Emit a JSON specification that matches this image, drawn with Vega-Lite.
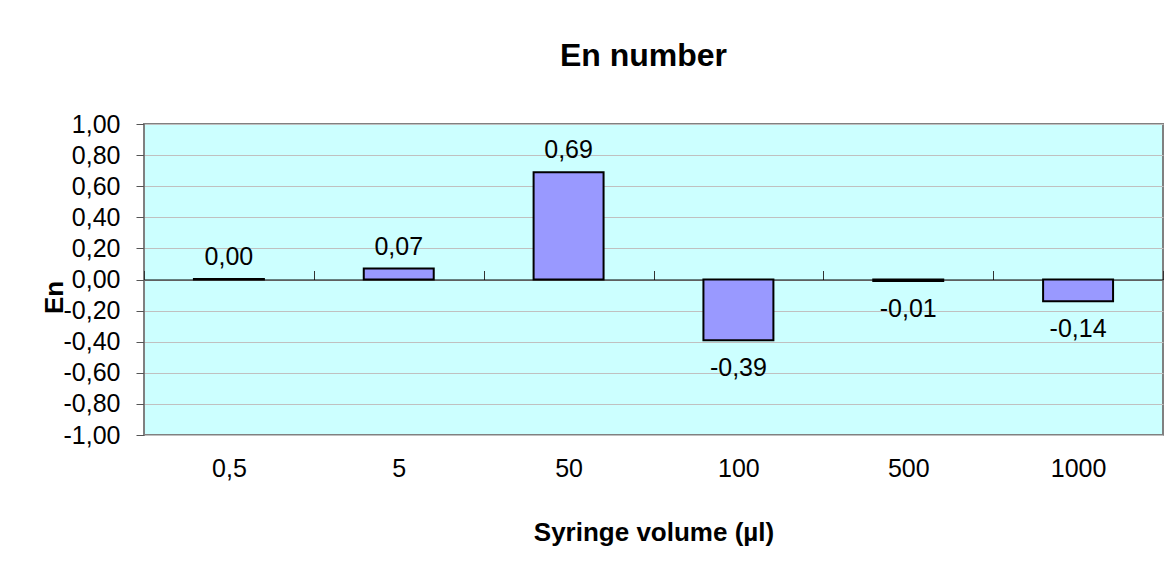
{
  "$schema": "https://vega.github.io/schema/vega-lite/v6.json",
  "autosize": {"type": "none"},
  "width": 1019,
  "height": 311,
  "padding": {"left": 144, "top": 124, "right": 12, "bottom": 134},
  "background": "white",
  "title": {
    "text": "En number",
    "font": "Liberation Sans",
    "fontSize": 32,
    "fontWeight": "bold",
    "color": "black",
    "anchor": "middle",
    "offset": 39,
    "dx": -10
  },
  "data": {
    "values": [
      {"volume": "0,5", "En": 0.003},
      {"volume": "5", "En": 0.07},
      {"volume": "50", "En": 0.69},
      {"volume": "100", "En": -0.39},
      {"volume": "500", "En": -0.01},
      {"volume": "1000", "En": -0.14}
    ]
  },
  "encoding": {
    "x": {
      "field": "volume",
      "type": "nominal",
      "sort": null,
      "scale": {"paddingInner": 0, "paddingOuter": 0},
      "axis": {
        "title": "Syringe volume (µl)",
        "labelAngle": 0,
        "orient": "bottom",
        "offset": -155.5,
        "domain": true,
        "domainColor": "black",
        "domainWidth": 1,
        "ticks": true,
        "tickBand": "extent",
        "tickSize": -9,
        "tickColor": "#333333",
        "labelPadding": 186,
        "labelFont": "Liberation Sans",
        "labelFontSize": 25,
        "labelColor": "black",
        "titleFont": "Liberation Sans",
        "titleFontSize": 26,
        "titleFontWeight": "bold",
        "titleColor": "black",
        "titlePadding": 40,
        "grid": false
      }
    },
    "y": {
      "field": "En",
      "type": "quantitative",
      "scale": {"domain": [-1, 1], "nice": false, "zero": false},
      "axis": {
        "title": "En",
        "values": [-1, -0.8, -0.6, -0.4, -0.2, 0, 0.2, 0.4, 0.6, 0.8, 1],
        "format": ".2f",
        "domain": false,
        "ticks": true,
        "tickSize": 8,
        "tickColor": "#555555",
        "labelPadding": 16,
        "labelFont": "Liberation Sans",
        "labelFontSize": 25,
        "labelColor": "black",
        "grid": true,
        "gridColor": "#c0c0c0",
        "gridWidth": 1,
        "titleFont": "Liberation Sans",
        "titleFontSize": 26,
        "titleFontWeight": "bold",
        "titleColor": "black",
        "titleAngle": 270,
        "titleAlign": "center",
        "titleBaseline": "middle",
        "titleX": -90,
        "titleY": 173
      }
    }
  },
  "layer": [
    {
      "mark": {
        "type": "bar",
        "fill": "#9999FF",
        "stroke": "black",
        "strokeWidth": 2,
        "width": {"band": 0.412}
      }
    },
    {
      "mark": {
        "type": "text",
        "font": "Liberation Sans",
        "fontSize": 25,
        "color": "black",
        "baseline": "middle",
        "dy": {"expr": "datum.En >= 0 ? -22 : 28"}
      },
      "encoding": {
        "text": {"field": "En", "type": "quantitative", "format": ".2f"}
      }
    }
  ],
  "config": {
    "locale": {
      "number": {
        "decimal": ",",
        "thousands": ".",
        "grouping": [3],
        "currency": ["", ""],
        "minus": "-"
      }
    },
    "view": {"stroke": "#808080", "strokeWidth": 2, "fill": "#CCFFFF"}
  }
}
